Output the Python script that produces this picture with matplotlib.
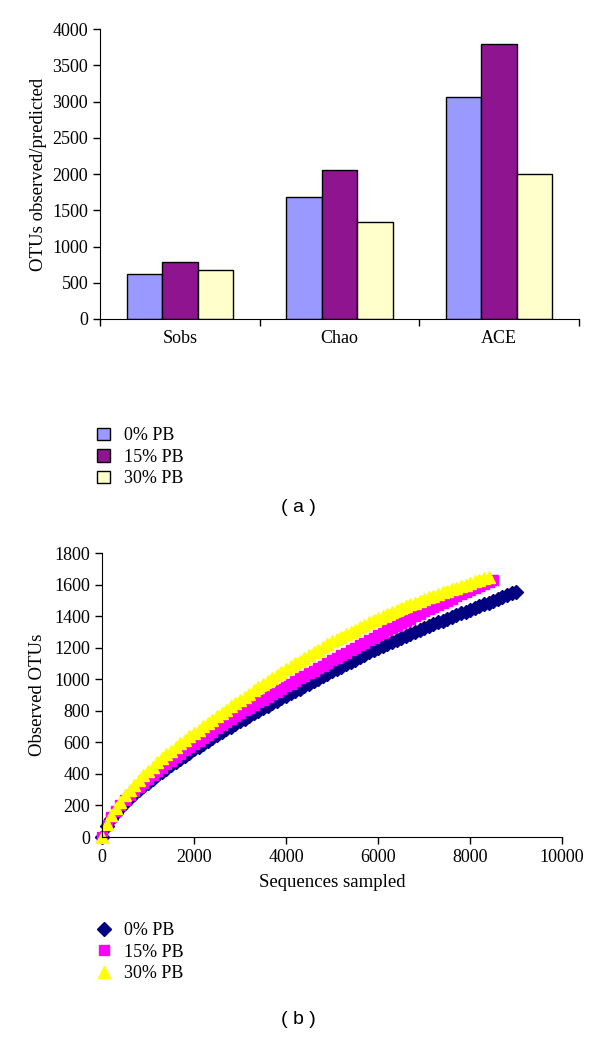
import matplotlib.pyplot as plt
from matplotlib.patches import Patch
from matplotlib.lines import Line2D

plt.rcParams['font.family'] = ['Liberation Serif', 'DejaVu Serif']

# (a) richness estimators
estimators = ['Sobs', 'Chao', 'ACE']
groups = ['0% PB', '15% PB', '30% PB']
pb0 = [620, 1680, 3060]
pb15 = [785, 2050, 3790]
pb30 = [672, 1345, 1995]
bar_colors = ['#9999FF', '#8E1490', '#FFFFCC']

# (b) rarefaction curves, observed OTUs every 100 sequences
seq_0 = list(range(0, 9001, 100))
otu_0 = [0, 70, 115, 150, 185, 215, 245, 272, 298, 322,
         345, 368, 391, 413, 434, 455, 475, 495, 515, 535,
         555, 573, 592, 610, 629, 647, 665, 683, 700, 718,
         735, 751, 767, 783, 799, 815, 831, 847, 863, 879,
         894, 910, 925, 941, 956, 972, 988, 1003, 1019, 1034,
         1050, 1065, 1080, 1095, 1110, 1125, 1140, 1155, 1170, 1185,
         1200, 1213, 1225, 1238, 1250, 1263, 1275, 1288, 1300, 1313,
         1325, 1337, 1348, 1360, 1371, 1383, 1394, 1406, 1417, 1429,
         1440, 1452, 1463, 1475, 1486, 1498, 1509, 1521, 1532, 1544,
         1555]
seq_15 = list(range(0, 8501, 100))
otu_15 = [0, 75, 125, 165, 200, 235, 265, 293, 320, 345,
          370, 394, 417, 440, 463, 485, 507, 528, 549, 570,
          590, 610, 629, 649, 668, 688, 707, 727, 746, 766,
          785, 802, 819, 836, 853, 870, 887, 904, 921, 938,
          955, 972, 988, 1005, 1021, 1038, 1054, 1071, 1087, 1104,
          1120, 1136, 1152, 1168, 1184, 1200, 1216, 1232, 1248, 1264,
          1280, 1295, 1310, 1325, 1340, 1355, 1370, 1385, 1400, 1415,
          1430, 1444, 1457, 1471, 1484, 1498, 1511, 1525, 1538, 1552,
          1565, 1578, 1592, 1605, 1619, 1632]
seq_30 = list(range(0, 8401, 100))
otu_30 = [0, 85, 140, 185, 225, 265, 300, 332, 363, 392,
          420, 447, 473, 499, 524, 548, 572, 595, 617, 639,
          660, 681, 702, 723, 744, 765, 786, 807, 828, 849,
          870, 890, 909, 929, 948, 968, 987, 1007, 1026, 1046,
          1065, 1083, 1100, 1118, 1135, 1153, 1170, 1188, 1205, 1223,
          1240, 1255, 1270, 1285, 1300, 1315, 1330, 1345, 1360, 1375,
          1390, 1402, 1414, 1426, 1438, 1450, 1462, 1474, 1486, 1498,
          1510, 1520, 1530, 1540, 1550, 1560, 1570, 1580, 1590, 1600,
          1610, 1620, 1630, 1640, 1650]

fs = 13

fig = plt.figure(figsize=(6, 10.39), dpi=100)

# ---- panel a ----
ax1 = fig.add_axes([0.1667, 0.693, 0.798, 0.279])
w = 0.222
for i, (vals, c) in enumerate(zip([pb0, pb15, pb30], bar_colors)):
    ax1.bar([k + (i - 1) * w for k in range(3)], vals, width=w, color=c,
            edgecolor='black', linewidth=1, label=groups[i])
ax1.set_xlim(-0.5, 2.5)
ax1.set_ylim(0, 4000)
ax1.set_yticks(range(0, 4001, 500))
ax1.set_xticks([-0.5, 0.5, 1.5, 2.5])
ax1.set_xticklabels([])
ax1.set_xticks(range(3), minor=True)
ax1.set_xticklabels(estimators, minor=True, fontsize=fs)
ax1.tick_params(axis='x', which='minor', length=0, pad=8)
ax1.tick_params(axis='both', which='major', direction='out', length=5,
                width=1, labelsize=fs)
for s in ['top', 'right']:
    ax1.spines[s].set_visible(False)
ax1.set_ylabel('OTUs observed/predicted', fontsize=fs + 0.5, labelpad=4)

handles_a = [Patch(facecolor=c, edgecolor='black', label=g)
             for c, g in zip(bar_colors, groups)]
fig.legend(handles=handles_a, loc='upper left',
           bbox_to_anchor=(0.15, 1 - 420 / 1039), frameon=False,
           fontsize=fs, handlelength=0.7, handleheight=0.7,
           handletextpad=0.8, labelspacing=0.25, borderaxespad=0)
fig.text(0.497, 1 - 508 / 1039, '( a )', ha='center', va='center',
         fontsize=14, family='Liberation Sans')

# ---- panel b ----
ax2 = fig.add_axes([0.17, 0.1944, 0.767, 0.2733])
ax2.plot(seq_0, otu_0, linestyle='none', marker='D', markersize=7,
         color='#000080', clip_on=False, label='0% PB')
ax2.plot(seq_15, otu_15, linestyle='none', marker='s', markersize=7.5,
         color='#FF00FF', clip_on=False, label='15% PB')
ax2.plot(seq_30, otu_30, linestyle='none', marker='^', markersize=9,
         color='#FFFF00', clip_on=False, label='30% PB')
ax2.set_xlim(0, 10000)
ax2.set_ylim(0, 1800)
ax2.set_xticks(range(0, 10001, 2000))
ax2.set_yticks(range(0, 1801, 200))
ax2.tick_params(axis='both', direction='out', length=5, width=1,
                labelsize=fs)
for s in ['top', 'right']:
    ax2.spines[s].set_visible(False)
ax2.set_xlabel('Sequences sampled', fontsize=fs + 0.5, labelpad=6)
ax2.set_ylabel('Observed OTUs', fontsize=fs + 0.5, labelpad=6)

handles_b = [Line2D([], [], linestyle='none', marker='D', markersize=7,
                    color='#000080', label='0% PB'),
             Line2D([], [], linestyle='none', marker='s', markersize=7.5,
                    color='#FF00FF', label='15% PB'),
             Line2D([], [], linestyle='none', marker='^', markersize=9,
                    color='#FFFF00', label='30% PB')]
fig.legend(handles=handles_b, loc='upper left',
           bbox_to_anchor=(0.15, 1 - 915 / 1039), frameon=False,
           fontsize=fs, handlelength=0.7, handletextpad=0.8,
           labelspacing=0.25, borderaxespad=0)
fig.text(0.497, 1 - 1020 / 1039, '( b )', ha='center', va='center',
         fontsize=14, family='Liberation Sans')

fig.savefig('out.png', dpi=100)
